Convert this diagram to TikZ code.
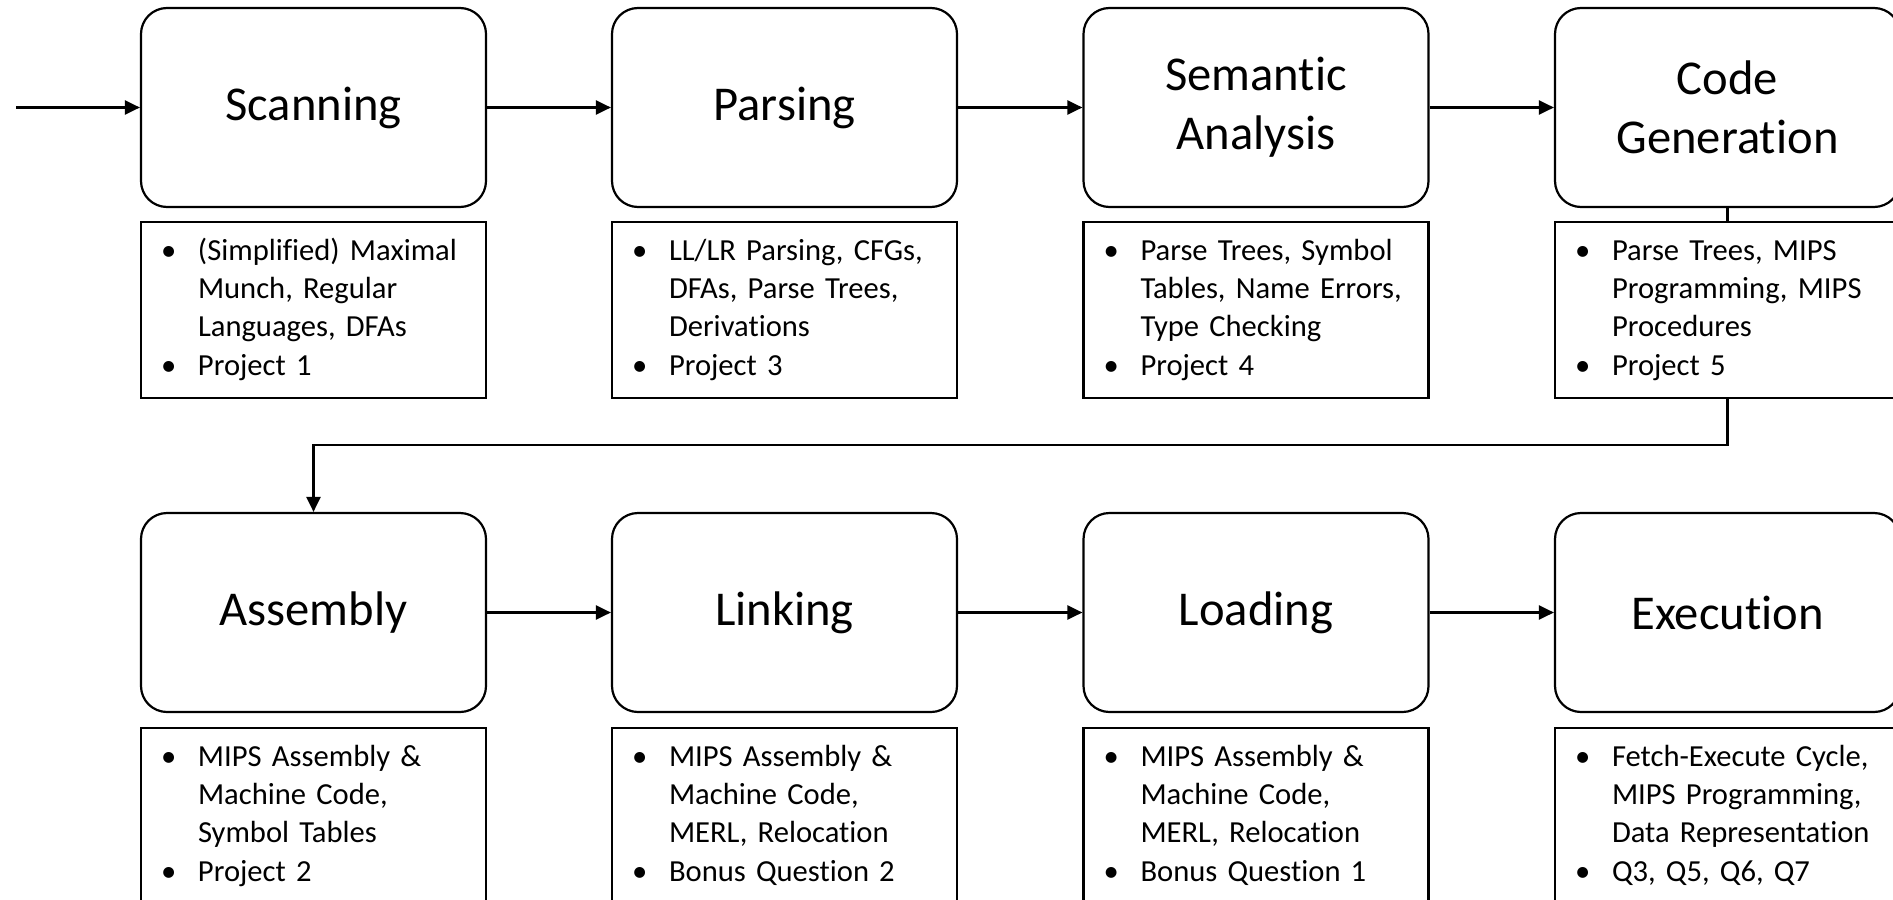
\documentclass[tikz,border=0pt]{standalone}
\usepackage{fontspec}
\setmainfont{Carlito}[Ligatures={NoCommon,NoRare,NoContextual}]
\usetikzlibrary{arrows.meta}
\newcommand{\fourl}[4]{\begin{tabular}{@{}p{18.5pt}@{}l@{}}•&#1\\&#2\\&#3\\•&#4\end{tabular}}
\begin{document}
\begin{tikzpicture}[x=0.5pt,y=-0.5pt,
  stage/.style={draw, line width=1.1pt, rounded corners=13pt, minimum width=172.5pt, minimum height=99.5pt, inner sep=0pt, align=center, font=\fontsize{24.3}{29.5}\selectfont},
  notes/.style={draw, line width=1.1pt, fill=white, minimum height=88pt, inner xsep=10pt, inner ysep=0pt, text width=152.5pt, align=left, font=\fontsize{15.3}{19.15}\selectfont},
  arr/.style={line width=1.1pt, -{Triangle[length=7.5pt,width=7pt]}}]
\useasboundingbox (0,0) rectangle (1893,899);
\clip (0,0) rectangle (1893,899);
% stages
\node[stage] (scan) at (313.5,107.5) {Scanning};
\node[stage] (pars) at (784.5,107.5) {Parsing};
\node[stage] (sem)  at (1256,107.5) {Semantic\\Analysis};
\node[stage] (cg)   at (1727.5,107.5) {Code\\Generation};
\node[stage] (asm)  at (313.5,612.5) {Assembly};
\node[stage] (link) at (784.5,612.5) {Linking};
\node[stage] (load) at (1256,612.5) {Loading};
\node[stage] (exe)  at (1727.5,612.5) {Execution};
% connectors
\coordinate (in) at (16,107.5);
\coordinate (bend) at (1727.5,445);
\draw[arr] (in) -- (scan);
\draw[arr] (scan) -- (pars);
\draw[arr] (pars) -- (sem);
\draw[arr] (sem) -- (cg);
\draw[arr] (cg.south) -- (bend) -| (asm.north);
\draw[arr] (asm) -- (link);
\draw[arr] (link) -- (load);
\draw[arr] (load) -- (exe);
% notes
\node[notes] (nscan) at (313.5,310) {\fourl{(Simplified) Maximal}{Munch, Regular}{Languages, DFAs}{Project 1}};
\node[notes] (npars) at (784.5,310) {\fourl{LL/LR Parsing, CFGs,}{DFAs, Parse Trees,}{Derivations}{Project 3}};
\node[notes] (nsem)  at (1256,310) {\fourl{Parse Trees, Symbol}{Tables, Name Errors,}{Type Checking}{Project 4}};
\node[notes] (ncg)   at (1727.5,310) {\fourl{Parse Trees, MIPS}{Programming, MIPS}{Procedures}{Project 5}};
\node[notes] (nasm)  at (313.5,816) {\fourl{MIPS Assembly \&}{Machine Code,}{Symbol Tables}{Project 2}};
\node[notes] (nlink) at (784.5,816) {\fourl{MIPS Assembly \&}{Machine Code,}{MERL, Relocation}{Bonus Question 2}};
\node[notes] (nload) at (1256,816) {\fourl{MIPS Assembly \&}{Machine Code,}{MERL, Relocation}{Bonus Question 1}};
\node[notes] (nexe)  at (1727.5,816) {\fourl{Fetch-Execute Cycle,}{MIPS Programming,}{Data Representation}{Q3, Q5, Q6, Q7}};
\end{tikzpicture}
\end{document}
